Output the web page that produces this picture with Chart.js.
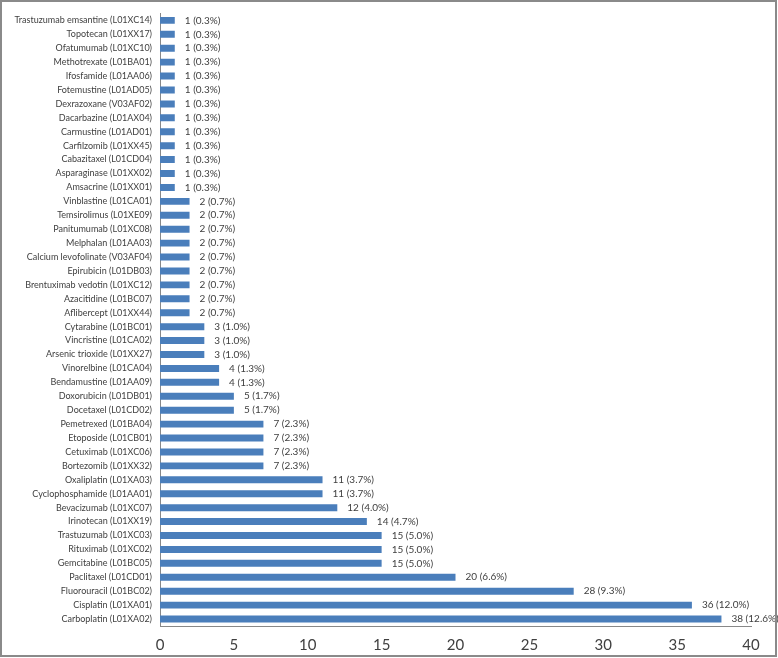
<!DOCTYPE html>
<html>
<head>
<meta charset="utf-8">
<script src="https://cdn.jsdelivr.net/npm/chart.js@4.4.1/dist/chart.umd.min.js"></script>
<style>
  html, body { margin: 0; padding: 0; background: #fff; }
  #wrap { width: 778px; height: 658px; position: relative; }
</style>
</head>
<body>
<div id="wrap"><canvas id="c" width="778" height="658"></canvas></div>
<script>
// categories top to bottom, as in the picture
const drugs = [
  "Trastuzumab emsantine (L01XC14)", "Topotecan (L01XX17)", "Ofatumumab (L01XC10)",
  "Methotrexate (L01BA01)", "Ifosfamide (L01AA06)", "Fotemustine (L01AD05)",
  "Dexrazoxane (V03AF02)", "Dacarbazine (L01AX04)", "Carmustine (L01AD01)",
  "Carfilzomib (L01XX45)", "Cabazitaxel (L01CD04)", "Asparaginase (L01XX02)",
  "Amsacrine (L01XX01)", "Vinblastine (L01CA01)", "Temsirolimus (L01XE09)",
  "Panitumumab (L01XC08)", "Melphalan (L01AA03)", "Calcium levofolinate (V03AF04)",
  "Epirubicin (L01DB03)", "Brentuximab vedotin (L01XC12)", "Azacitidine (L01BC07)",
  "Aflibercept (L01XX44)", "Cytarabine (L01BC01)", "Vincristine (L01CA02)",
  "Arsenic trioxide (L01XX27)", "Vinorelbine (L01CA04)", "Bendamustine (L01AA09)",
  "Doxorubicin (L01DB01)", "Docetaxel (L01CD02)", "Pemetrexed (L01BA04)",
  "Etoposide (L01CB01)", "Cetuximab (L01XC06)", "Bortezomib (L01XX32)",
  "Oxaliplatin (L01XA03)", "Cyclophosphamide (L01AA01)", "Bevacizumab (L01XC07)",
  "Irinotecan (L01XX19)", "Trastuzumab (L01XC03)", "Rituximab (L01XC02)",
  "Gemcitabine (L01BC05)", "Paclitaxel (L01CD01)", "Fluorouracil (L01BC02)",
  "Cisplatin (L01XA01)", "Carboplatin (L01XA02)"
];
const counts = [
  1, 1, 1, 1, 1, 1, 1, 1, 1, 1, 1, 1, 1,
  2, 2, 2, 2, 2, 2, 2, 2, 2,
  3, 3, 3, 4, 4, 5, 5,
  7, 7, 7, 7, 11, 11, 12, 14, 15, 15, 15, 20, 28, 36, 38
];
const pcts = [
  "0.3", "0.3", "0.3", "0.3", "0.3", "0.3", "0.3", "0.3", "0.3", "0.3", "0.3", "0.3", "0.3",
  "0.7", "0.7", "0.7", "0.7", "0.7", "0.7", "0.7", "0.7", "0.7",
  "1.0", "1.0", "1.0", "1.3", "1.3", "1.7", "1.7",
  "2.3", "2.3", "2.3", "2.3", "3.7", "3.7", "4.0", "4.7", "5.0", "5.0", "5.0", "6.6", "9.3", "12.0", "12.6"
];
const xTicks = [0, 5, 10, 15, 20, 25, 30, 35, 40];

// value labels "n (p%)" to the right of each bar
const valueLabels = {
  id: 'valueLabels',
  afterDatasetsDraw(chart) {
    const ctx = chart.ctx;
    const meta = chart.getDatasetMeta(0);
    ctx.save();
    ctx.font = '10px Lato';
    ctx.fillStyle = '#404040';
    ctx.textBaseline = 'middle';
    ctx.textAlign = 'left';
    meta.data.forEach((bar, i) => {
      ctx.fillText(counts[i] + ' (' + pcts[i] + '%)', bar.x + 10, bar.y);
    });
    ctx.restore();
  }
};

// grey frame round the whole picture
const frame = {
  id: 'frame',
  afterDraw(chart) {
    const ctx = chart.ctx;
    ctx.save();
    ctx.strokeStyle = '#8a8a8a';
    ctx.lineWidth = 2;
    ctx.strokeRect(1, 1, 775, 655);
    ctx.restore();
  }
};

new Chart(document.getElementById('c'), {
  type: 'bar',
  data: {
    labels: drugs,
    datasets: [{
      data: counts,
      backgroundColor: '#4a7ebb',
      categoryPercentage: 0.5,
      barPercentage: 1.0
    }]
  },
  options: {
    indexAxis: 'y',
    responsive: false,
    animation: false,
    layout: { padding: { left: 0, right: 27, top: 8, bottom: 0 } },
    plugins: { legend: { display: false }, tooltip: { enabled: false } },
    scales: {
      x: {
        min: 0, max: 40,
        afterBuildTicks: (axis) => { axis.ticks = xTicks.map(v => ({ value: v })); },
        afterFit: (axis) => { axis.height = 32; },
        grid: { display: false, drawTicks: false },
        border: { display: true, color: '#888888', width: 1 },
        ticks: { font: { family: 'Lato', size: 15 }, color: '#404040', padding: 10 }
      },
      y: {
        afterFit: (axis) => { axis.width = 160; },
        grid: { display: false, drawTicks: false },
        border: { display: true, color: '#888888', width: 1 },
        ticks: { autoSkip: false, font: { family: 'Lato', size: 9 }, color: '#404040', padding: 8 }
      }
    }
  },
  plugins: [valueLabels, frame]
});
</script>
</body>
</html>
